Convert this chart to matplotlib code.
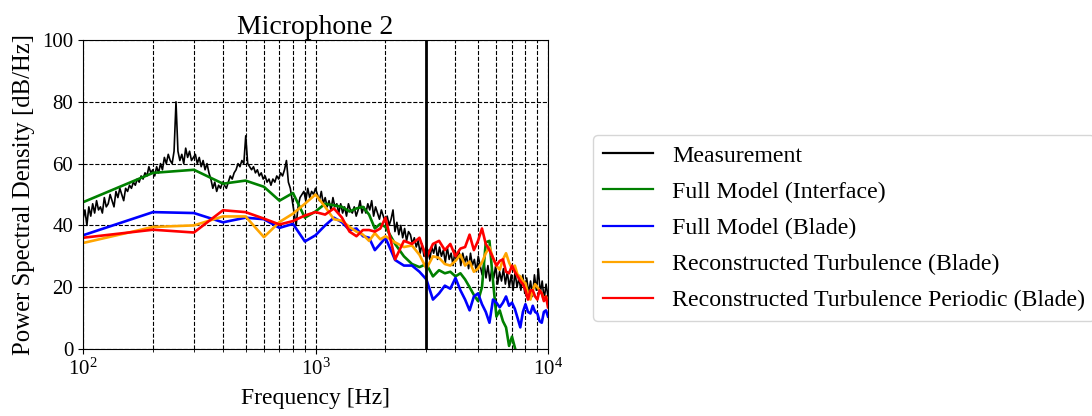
import numpy as np
import matplotlib
matplotlib.use("Agg")
import matplotlib.pyplot as plt

plt.rcParams['font.family'] = ['Liberation Serif', 'DejaVu Serif']
plt.rcParams['mathtext.fontset'] = 'custom'
plt.rcParams['mathtext.rm'] = 'Liberation Serif'
plt.rcParams['mathtext.it'] = 'Liberation Serif:italic'
plt.rcParams['mathtext.bf'] = 'Liberation Serif:bold'

title = "Microphone 2"
xlabel = "Frequency [Hz]"
ylabel = "Power Spectral Density [dB/Hz]"
labels = ["Measurement", "Full Model (Interface)", "Full Model (Blade)",
          "Reconstructed Turbulence (Blade)", "Reconstructed Turbulence Periodic (Blade)"]
colors = ["black", "green", "blue", "orange", "red"]
marker_freq = 3000

# Measurement: values sampled on a log-spaced frequency axis 100 Hz .. 10 kHz
meas_db = [
    42, 45, 40, 46, 43, 47, 44, 48, 45, 46, 44, 49, 46,
    47, 50, 48, 46, 51, 49, 52, 50, 48, 52, 51, 53,
    52, 54, 53, 55, 54, 56, 55, 57, 56, 59, 57, 58,
    56, 59, 57, 60, 58, 62, 60, 63, 61, 60, 64,
    80,
    64, 61, 63, 60, 65, 62, 64, 61, 62,
    63, 60, 62, 59, 61, 58, 60, 57,
    55, 52, 54, 51, 53, 52, 54,
    53, 52, 54, 56, 55, 57, 58, 60, 59, 61, 60,
    69,
    60, 59, 58, 59, 57, 58, 56, 57, 55, 56, 54, 55, 53, 55, 54, 56,
    55, 57, 56, 58,
    61,
    54, 52, 48, 44, 40, 46, 49,
    50, 51, 48, 52, 49, 51, 50, 52,
    50, 48, 51, 47, 49, 46, 48, 45, 49, 46, 47, 44,
    47, 44, 46, 43, 47, 45, 44, 46, 43, 45, 48, 44,
    46, 44, 47, 45, 48, 43, 46, 44, 42, 45, 43, 41,
    43, 40, 42, 45, 38, 41, 37, 40, 36, 39, 35, 38,
    37, 34, 36, 33, 35, 31, 34, 30, 33, 32, 29, 33,
    31, 34, 29, 33, 30, 32, 28, 33, 29, 31, 27, 32,
    29, 32, 27, 31, 28, 30, 26, 31, 27, 29, 25, 30,
    27, 24, 28, 23, 27, 22, 26, 23, 27, 21, 25, 22,
    26, 21, 25, 20, 24, 19, 25, 20, 23, 19, 24, 18,
    23, 18, 22, 17, 24, 19, 26, 18, 22, 16, 21, 17,
]
meas_freq = np.geomspace(100, 10000, len(meas_db))

model_freq = [100, 200, 300, 400, 500, 600, 700, 800, 900, 1000,
              1100, 1200, 1300, 1400, 1500, 1600, 1700, 1800, 1900, 2000,
              2200, 2400, 2600, 2800, 3000, 3200, 3400, 3600, 3800, 4000,
              4200, 4400, 4600, 4800, 5000, 5200, 5400, 5600, 5800, 6000,
              6200, 6400, 6600, 6800, 7000, 7200, 7400, 7600, 7800, 8000,
              8200, 8400, 8600, 8800, 9000, 9200, 9400, 9600, 9800, 10000]

full_interface = [47.5, 57, 58, 53.5, 54.5, 52.5, 48, 50.5, 42.5, 44.5,
                  47, 46.5, 46, 44.5, 45.5, 46, 43.5, 39, 40.5, 39.5,
                  34, 30, 27.5, 26.5, 27.5, 23.5, 25.5, 24.5, 25, 23.5,
                  24.5, 22.5, 20, 17.5, 15.5, 20, 34.5, 35, 22, 10.5,
                  12.5, 9, 7, 1, 4, 0.5, -3, -8, None, None,
                  None, None, None, None, None, None, None, None, None, None]

full_blade = [36.8, 44.3, 44, 41, 42.5, 42, 39.2, 40.5, 34.8, 36.8,
              40, 42.5, 41, 38.5, 39, 36.5, 36, 32, 34, 36,
              28.8, 27, 27, 25, 22.5, 16, 18, 20.5, 19.5, 23,
              19, 16, 12.5, 17, 18, 14.5, 12, 8.5, 16, 15,
              13.5, 15, 17, 14, 15, 13, 10, 7, 12, 14.5,
              12, 11.5, 14, 12, 11.5, 9, 8.5, 12, 12.5, 10.5]

recon_turb = [34.3, 39.5, 40, 42.9, 42.9, 36.2, 41.1, 43.8, 47, 50,
              46, 42, 41.5, 39.5, 38, 37, 35, 37.5, 35.5, 36.5,
              34.5, 33, 33.5, 30.5, 26, 30, 29.5, 27.5, 27, 28.5,
              30.5, 27, 28.3, 25, 26, 28, 31, 33, 29.5, 27,
              25.6, 29, 31, 28, 26, 27, 24, 23.5, 22, 21.3,
              18, 16, 19, 21, 20, 19, 18, 16, 17, 15]

recon_turb_periodic = [36, 38.6, 37.7, 44.9, 44.3, 42.2, 40.3, 41.4, 43.2, 44.3,
                       43.5, 45.5, 42.5, 38, 36.5, 38.5, 38.5, 38, 39, 42.5,
                       29, 35, 34, 36, 29.5, 34, 35, 32, 34, 30,
                       32.5, 33, 37, 32, 35, 39, 34, 32, 29.5, 27,
                       28.5, 29, 25, 24.5, 27, 25, 23.5, 22, 21, 19,
                       16, 19, 19, 17, 16, 19, 18, 15.5, 17, 13.5]

def arr(v):
    return np.array([np.nan if x is None else x for x in v], dtype=float)

fig = plt.figure(figsize=(10.92, 4.16), dpi=100)
ax = fig.add_axes([83/1092, 1 - 349/416, (548 - 83)/1092, (349 - 40)/416])

ax.semilogx(meas_freq, meas_db, color=colors[0], lw=1.2, label=labels[0])
series = [full_interface, full_blade, recon_turb, recon_turb_periodic]
for s, c, l in zip(series, colors[1:], labels[1:]):
    ax.semilogx(model_freq, arr(s), color=c, lw=1.9, label=l)
ax.axvline(marker_freq, color='black', lw=2)

ax.set_xlim(100, 10000)
ax.set_ylim(0, 100)
ax.set_yticks([0, 20, 40, 60, 80, 100])
ax.grid(True, which='major', color='black', linestyle='--', lw=0.8)
ax.grid(True, which='minor', axis='x', color='black', linestyle='--', lw=0.8)
ax.tick_params(axis='both', which='major', labelsize=15)
ax.set_title(title, fontsize=20, pad=4)
ax.set_xlabel(xlabel, fontsize=17, labelpad=6)
ax.set_ylabel(ylabel, fontsize=17.8, labelpad=5)

leg = fig.legend(loc='center left', bbox_to_anchor=(593/1092, 1 - 228/416),
                 bbox_transform=fig.transFigure, fontsize=17.2, labelspacing=0.6,
                 borderaxespad=0, handlelength=2.1)
for ln in leg.get_lines():
    ln.set_linewidth(1.6)

fig.savefig("out.png", dpi=100)
